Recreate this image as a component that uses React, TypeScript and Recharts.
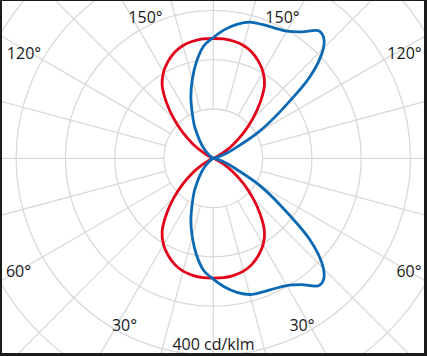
import { RadarChart, Radar, PolarGrid, PolarAngleAxis, PolarRadiusAxis } from "recharts";

// luminous intensity, cd/klm, gamma 0..90 in 5° steps (picture is mirrored top/bottom)
const gamma = [0, 5, 10, 15, 20, 25, 30, 35, 40, 45, 50, 55, 60, 65, 70, 75, 80, 85, 90];
const redC0 = [243, 243, 241, 237, 229, 217, 202, 181, 148, 113, 80, 50, 24, 8, 0, 0, 0, 0, 0];
const blueC90 = [245, 262, 276, 286, 289, 292, 298, 313, 336, 316, 254, 166, 105, 50, 25, 10, 3, 0, 0];
const blueC270 = [245, 228, 198, 165, 133, 101, 77, 54, 38, 25, 14, 6, 1, 0, 0, 0, 0, 0, 0];

const ringValues = [100, 200, 300, 400, 500, 600];
const spokeAngles = Array.from({ length: 24 }, (_, i) => i * 15);

const angleLabels = [
  { text: "150°", x: 145.5, y: 23 },
  { text: "150°", x: 282.5, y: 23 },
  { text: "120°", x: 24, y: 58.5 },
  { text: "120°", x: 404.5, y: 58.5 },
  { text: "60°", x: 18.5, y: 276.5 },
  { text: "60°", x: 409, y: 276.5 },
  { text: "30°", x: 124.5, y: 331 },
  { text: "30°", x: 302, y: 331 },
];
const unitLabel = "400 cd/klm";

const W = 427;
const H = 356;
const CX = 213.3;
const CY = 158.3;
const PX_PER_CD = 0.493;
const MAX_V = 500;

const RED = "#e2001a";
const BLUE = "#0a69b2";
const GRID = "#d9d9d9";
const FONT = "'Open Sans', 'Noto Sans', sans-serif";

// walk round from straight down: right half (C0 / C90) then left half (C180 / C270)
const step = gamma[1] - gamma[0];
const rows: { phi: number; red: number; blue: number }[] = [];
for (let i = 0; i < 360 / step; i++) {
  const right = i <= 180 / step;
  const g = right ? i * step : 360 - i * step;
  const k = (g <= 90 ? g : 180 - g) / step;
  rows.push({ phi: i * step, red: redC0[k], blue: right ? blueC90[k] : blueC270[k] });
}

type Pt = { x: number; y: number; radius: number };

// closed catmull-rom through the radar points, sharp at the centre
function smoothPath(points: Pt[]) {
  const p: Pt[] = [];
  for (const q of points) {
    const last = p[p.length - 1];
    if (!last || Math.hypot(q.x - last.x, q.y - last.y) > 0.05) p.push(q);
  }
  if (p.length > 1 && Math.hypot(p[0].x - p[p.length - 1].x, p[0].y - p[p.length - 1].y) < 0.05) p.pop();
  const n = p.length;
  const t = p.map((q, i) => {
    if (q.radius < 0.5) return { x: 0, y: 0 };
    const a = p[(i - 1 + n) % n];
    const b = p[(i + 1) % n];
    return { x: (b.x - a.x) / 2, y: (b.y - a.y) / 2 };
  });
  let d = `M${p[0].x},${p[0].y}`;
  for (let i = 0; i < n; i++) {
    const a = p[i];
    const b = p[(i + 1) % n];
    const ta = t[i];
    const tb = t[(i + 1) % n];
    d += `C${a.x + ta.x / 3},${a.y + ta.y / 3} ${b.x - tb.x / 3},${b.y - tb.y / 3} ${b.x},${b.y}`;
  }
  return d + "Z";
}

function curve(color: string) {
  return (props: any) => (
    <path d={smoothPath(props.points)} fill="none" stroke={color} strokeWidth={2.8} strokeLinejoin="round" />
  );
}

export default function App() {
  return (
    <div style={{ position: "absolute", left: 0, top: 0, width: W, height: H, background: "#fff", overflow: "hidden" }}>
      <div style={{ position: "absolute", left: 0, top: 0 }}>
        <RadarChart width={W} height={H} cx={CX} cy={CY} innerRadius={ringValues[0] * PX_PER_CD} outerRadius={340} data={rows}>
          <PolarGrid
            gridType="circle"
            polarRadius={ringValues.map((v) => v * PX_PER_CD)}
            polarAngles={spokeAngles}
            stroke={GRID}
            strokeWidth={1.3}
          />
        </RadarChart>
      </div>
      <div style={{ position: "absolute", left: 0, top: 0 }}>
        <RadarChart
          width={W}
          height={H}
          cx={CX}
          cy={CY}
          outerRadius={MAX_V * PX_PER_CD}
          startAngle={-90}
          endAngle={270}
          data={rows}
        >
          <PolarAngleAxis dataKey="phi" type="number" domain={[0, 360]} tick={false} axisLine={false} tickLine={false} />
          <PolarRadiusAxis domain={[0, MAX_V]} tick={false} axisLine={false} />
          <Radar dataKey="red" stroke={RED} fill="none" dot={false} isAnimationActive={false} shape={curve(RED)} />
          <Radar dataKey="blue" stroke={BLUE} fill="none" dot={false} isAnimationActive={false} shape={curve(BLUE)} />
        </RadarChart>
      </div>
      <svg width={W} height={H} style={{ position: "absolute", left: 0, top: 0 }}>
        {angleLabels.map((l, i) => (
          <text key={i} x={l.x} y={l.y} textAnchor="middle" fontFamily={FONT} fontSize={16} fill="#1a1a1a">
            {l.text}
          </text>
        ))}
        <text x={213.5} y={349.5} textAnchor="middle" fontFamily={FONT} fontSize={16} fill="#1a1a1a">
          {unitLabel}
        </text>
      </svg>
      <div
        style={{
          position: "absolute",
          inset: 0,
          boxSizing: "border-box",
          borderStyle: "solid",
          borderColor: "#1c1c1c",
          borderWidth: "1px 3px 3px 2px",
          pointerEvents: "none",
        }}
      />
    </div>
  );
}
